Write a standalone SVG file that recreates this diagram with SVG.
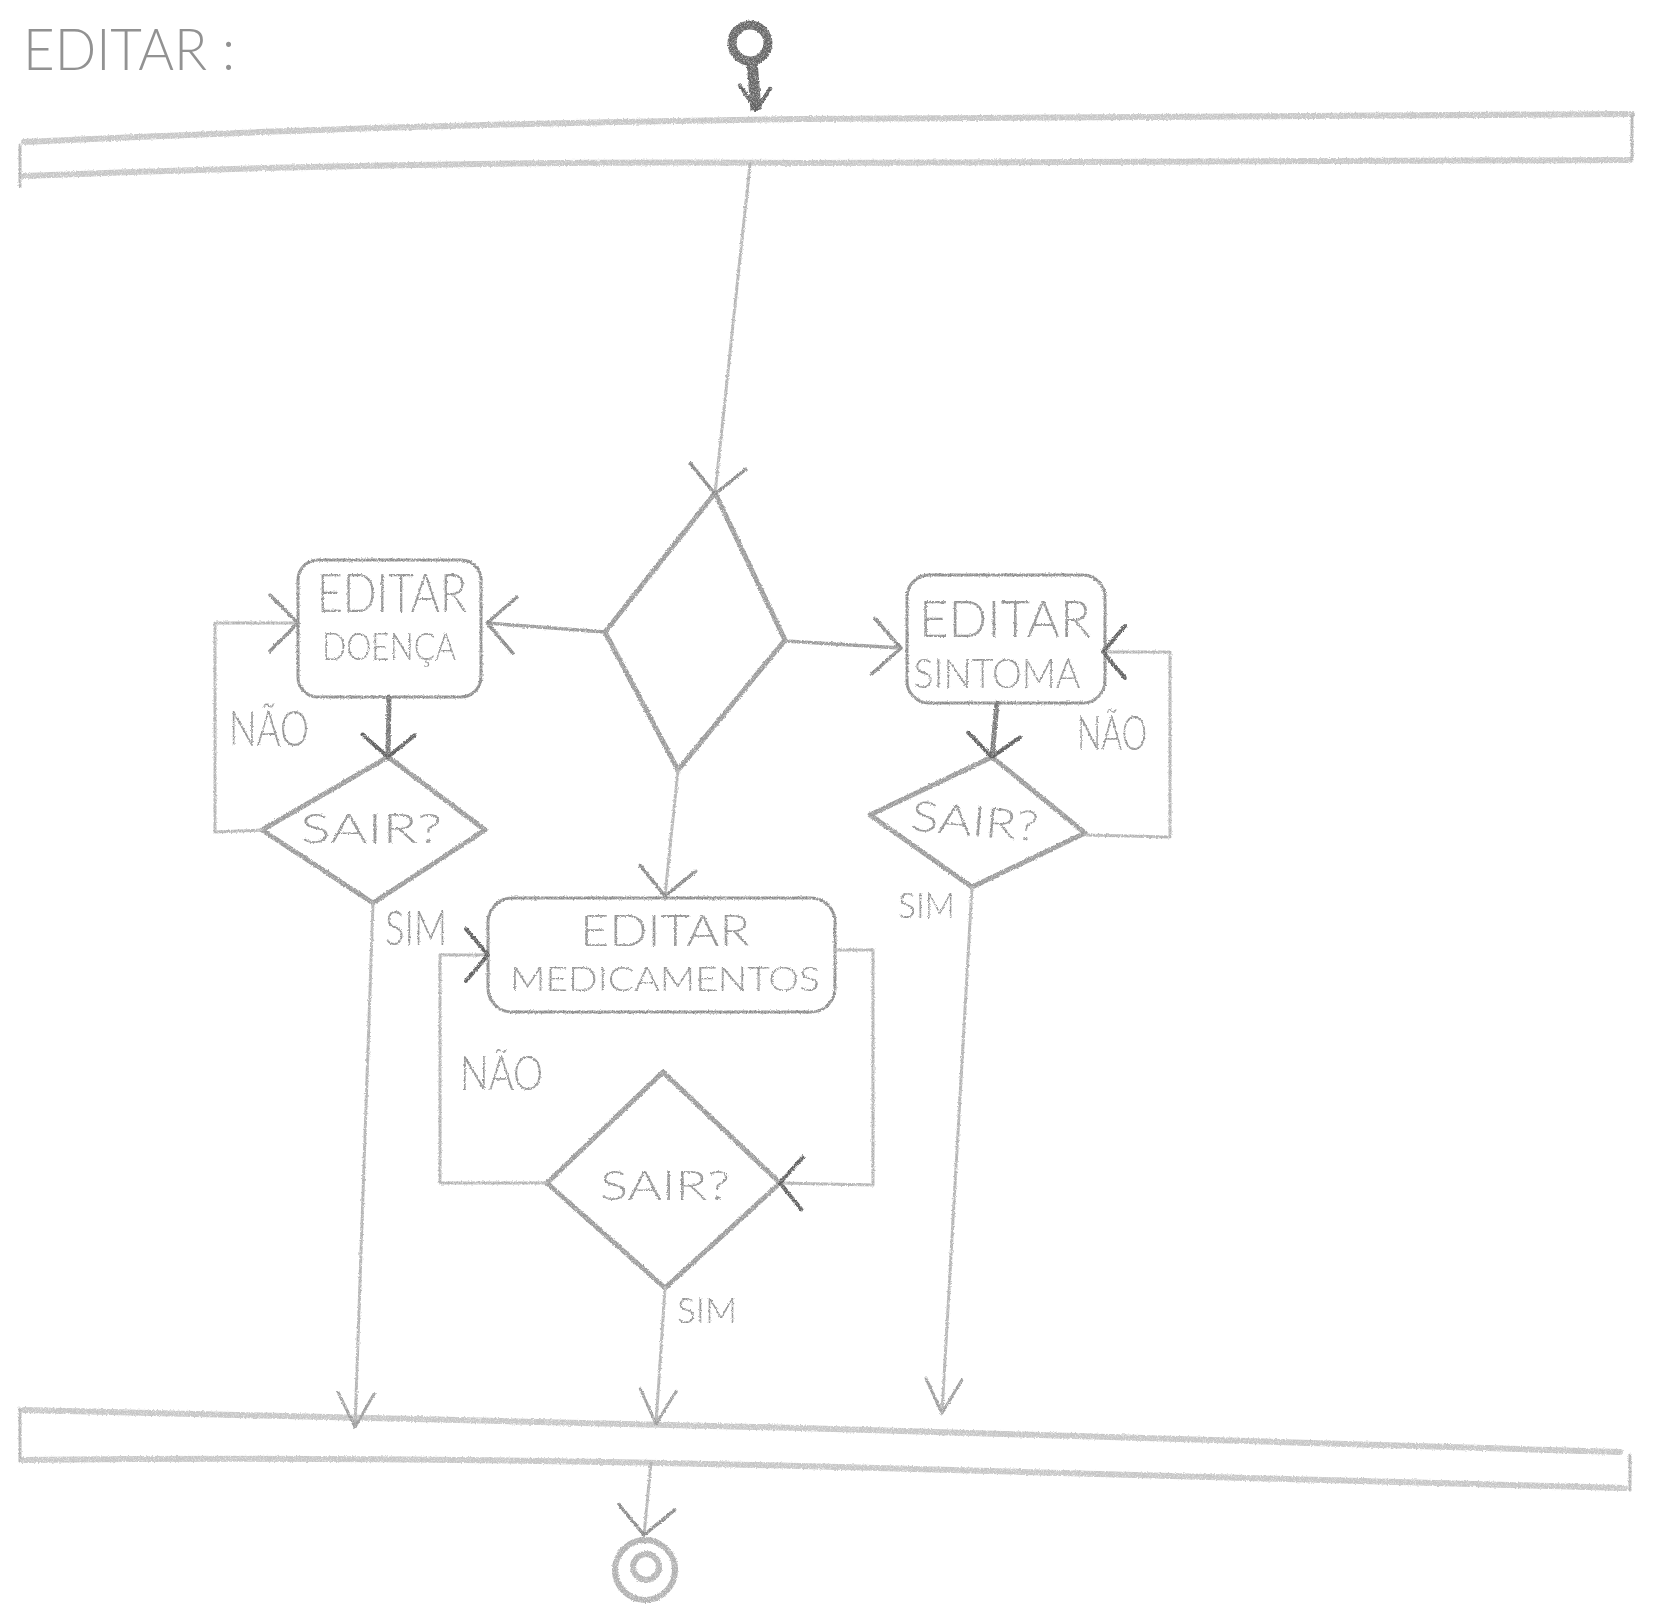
<svg xmlns="http://www.w3.org/2000/svg" width="1660" height="1624" viewBox="0 0 1660 1624">
  <defs>
    <style>
      .sheet { fill: #ffffff; }
      .pencil { fill: none; stroke-linecap: round; stroke-linejoin: round; }
      .bar { stroke: #c6c6c6; stroke-width: 6; }
      .bar-edge { stroke: #b4b4b4; stroke-width: 3; }
      .box { stroke: #8e8e8e; stroke-width: 3; }
      .diamond { stroke: #9a9a9a; stroke-width: 5; }
      .flow-light { stroke: #b4b4b4; stroke-width: 3; }
      .flow-mid { stroke: #9a9a9a; stroke-width: 3.5; }
      .flow-dark { stroke: #777777; stroke-width: 5; }
      .hand { font-family: "Lato", "Liberation Sans", "DejaVu Sans", sans-serif; font-weight: 300; fill: #929292; text-anchor: middle; }
      .hand-start { font-family: "Lato", "Liberation Sans", "DejaVu Sans", sans-serif; font-weight: 300; fill: #929292; }
      .head-dark { fill: none; stroke: #5e5e5e; stroke-width: 4; stroke-linecap: round; stroke-linejoin: round; }
      .head-mid { fill: none; stroke: #8a8a8a; stroke-width: 3.5; stroke-linecap: round; stroke-linejoin: round; }
      .head-light { fill: none; stroke: #9d9d9d; stroke-width: 3; stroke-linecap: round; stroke-linejoin: round; }
    </style>
    <!-- graphite texture: slightly wobbly, grainy strokes -->
    <filter id="graphite" filterUnits="userSpaceOnUse" x="0" y="0" width="1660" height="1624">
      <feTurbulence type="fractalNoise" baseFrequency="0.6" numOctaves="2" seed="7" result="noise"/>
      <feDisplacementMap in="SourceGraphic" in2="noise" scale="3" xChannelSelector="R" yChannelSelector="G" result="rough"/>
      <feTurbulence type="fractalNoise" baseFrequency="1.4" numOctaves="1" seed="3" result="grain"/>
      <feColorMatrix in="grain" type="matrix" values="0 0 0 0 0  0 0 0 0 0  0 0 0 0 0  -1.6 0 0 0 1.7" result="grainA"/>
      <feComposite in="rough" in2="grainA" operator="in"/>
    </filter>
    <!-- open V arrowheads -->
    <marker id="arrow-wide" markerUnits="userSpaceOnUse" markerWidth="80" markerHeight="80" refX="0" refY="0" orient="auto" style="overflow:visible">
      <path class="head-mid" d="M-28,-28 L0,0 L-28,28"/>
    </marker>
    <marker id="arrow-dark" markerUnits="userSpaceOnUse" markerWidth="80" markerHeight="80" refX="0" refY="0" orient="auto" style="overflow:visible">
      <path class="head-dark" d="M-22,-26 L0,0 L-22,26"/>
    </marker>
    <marker id="arrow-narrow" markerUnits="userSpaceOnUse" markerWidth="80" markerHeight="80" refX="0" refY="0" orient="auto" style="overflow:visible">
      <path class="head-light" d="M-34,-18 L0,0 L-34,18"/>
    </marker>
    <marker id="arrow-start" markerUnits="userSpaceOnUse" markerWidth="60" markerHeight="60" refX="0" refY="0" orient="auto" style="overflow:visible">
      <path class="head-dark" d="M-20,-16 L0,0 L-26,14"/>
    </marker>
  </defs>

  <rect class="sheet" x="0" y="0" width="1660" height="1624"/>

  <g id="title">
    <text class="hand-start" x="23" y="70" font-size="58" textLength="212" lengthAdjust="spacingAndGlyphs">EDITAR :</text>
  </g>

  <g filter="url(#graphite)">
    <!-- initial node -->
    <g id="start">
      <circle cx="750" cy="43" r="18" fill="none" stroke="#666666" stroke-width="9"/>
    </g>

    <!-- fork bar -->
    <g id="fork" class="pencil">
      <path class="bar" d="M24,142 Q400,124 800,119 L1632,114"/>
      <path class="bar" d="M24,176 Q420,160 800,163 L1630,160"/>
      <path class="bar-edge" d="M20,145 L20,186"/>
      <path class="bar-edge" d="M1632,114 L1632,160"/>
    </g>

    <!-- first decision -->
    <g id="decision" class="pencil">
      <path class="diamond" d="M715,493 L785,640 L678,770 L605,632 Z"/>
    </g>

    <g id="editar-doenca" class="pencil">
      <rect class="box" x="298" y="560" width="183" height="137" rx="20"/>
      <text class="hand" x="392" y="612" font-size="54" textLength="150" lengthAdjust="spacingAndGlyphs">EDITAR</text>
      <text class="hand" x="389" y="660" font-size="37" textLength="134" lengthAdjust="spacingAndGlyphs">DOENÇA</text>
    </g>

    <g id="editar-sintoma" class="pencil">
      <rect class="box" x="907" y="575" width="198" height="128" rx="22"/>
      <text class="hand" x="1005" y="637" font-size="52" textLength="172" lengthAdjust="spacingAndGlyphs">EDITAR</text>
      <text class="hand" x="997" y="688" font-size="42" textLength="167" lengthAdjust="spacingAndGlyphs">SINTOMA</text>
    </g>

    <g id="editar-medicamentos" class="pencil">
      <rect class="box" x="488" y="898" width="347" height="114" rx="24"/>
      <text class="hand" x="665" y="946" font-size="44" textLength="170" lengthAdjust="spacingAndGlyphs">EDITAR</text>
      <text class="hand" x="665" y="991" font-size="34" textLength="310" lengthAdjust="spacingAndGlyphs">MEDICAMENTOS</text>
    </g>

    <g id="sair-doenca" class="pencil">
      <path class="diamond" d="M388,757 L485,830 L373,903 L262,830 Z"/>
      <text class="hand" x="371" y="843" font-size="42" textLength="142" lengthAdjust="spacingAndGlyphs">SAIR?</text>
    </g>

    <g id="sair-sintoma" class="pencil">
      <path class="diamond" d="M992,757 L1085,833 L972,887 L870,815 Z"/>
      <text class="hand" x="975" y="836" font-size="42" textLength="128" lengthAdjust="spacingAndGlyphs" transform="rotate(5 975 822)">SAIR?</text>
    </g>

    <g id="sair-medicamentos" class="pencil">
      <path class="diamond" d="M663,1072 L780,1183 L665,1288 L547,1183 Z"/>
      <text class="hand" x="665" y="1200" font-size="42" textLength="130" lengthAdjust="spacingAndGlyphs">SAIR?</text>
    </g>

    <!-- join bar -->
    <g id="join" class="pencil">
      <path class="bar" d="M24,1410 Q400,1418 800,1428 L1620,1452"/>
      <path class="bar" d="M22,1460 Q400,1456 800,1466 L1625,1488"/>
      <path class="bar-edge" d="M20,1408 L20,1461"/>
      <path class="bar-edge" d="M1630,1455 L1630,1490"/>
    </g>

    <!-- final node -->
    <g id="end">
      <circle cx="645" cy="1570" r="30" fill="none" stroke="#b0b0b0" stroke-width="6"/>
      <circle cx="646" cy="1567" r="13" fill="none" stroke="#b4b4b4" stroke-width="6"/>
    </g>

    <!-- transitions -->
    <g id="connectors" class="pencil">
      <path d="M752,62 L756,110" stroke="#666666" stroke-width="11" stroke-linecap="butt" marker-end="url(#arrow-start)"/>
      <path class="flow-light" d="M750,164 L715,494" marker-end="url(#arrow-wide)"/>
      <path class="flow-mid" d="M605,632 L487,623" marker-end="url(#arrow-wide)"/>
      <path class="flow-mid" d="M785,641 L901,648" marker-end="url(#arrow-wide)"/>
      <path class="flow-light" d="M678,770 L665,896" marker-end="url(#arrow-wide)"/>

      <path class="flow-dark" d="M389,697 L388,757" marker-end="url(#arrow-dark)"/>
      <path class="flow-light" d="M262,830 L215,832 L215,623 L298,623" marker-end="url(#arrow-wide)"/>
      <path class="flow-light" d="M373,903 L355,1427" marker-end="url(#arrow-narrow)"/>

      <path class="flow-dark" d="M997,703 L992,757" marker-end="url(#arrow-dark)"/>
      <path class="flow-light" d="M1085,835 L1170,837 L1170,652 L1103,652" marker-end="url(#arrow-dark)"/>
      <path class="flow-light" d="M972,887 L942,1413" marker-end="url(#arrow-narrow)"/>

      <path class="flow-light" d="M835,950 L873,950 L873,1185 L780,1183" marker-end="url(#arrow-dark)"/>
      <path class="flow-light" d="M547,1183 L440,1183 L440,955 L488,955" marker-end="url(#arrow-dark)"/>
      <path class="flow-light" d="M665,1288 L656,1424" marker-end="url(#arrow-narrow)"/>

      <path class="flow-light" d="M651,1462 L644,1535" marker-end="url(#arrow-wide)"/>
    </g>

    <!-- guard labels -->
    <g id="labels">
      <text class="hand-start" x="229" y="746" font-size="50" textLength="80" lengthAdjust="spacingAndGlyphs">NÃO</text>
      <text class="hand-start" x="1077" y="750" font-size="48" textLength="70" lengthAdjust="spacingAndGlyphs">NÃO</text>
      <text class="hand-start" x="460" y="1090" font-size="48" textLength="83" lengthAdjust="spacingAndGlyphs">NÃO</text>
      <text class="hand-start" x="385" y="945" font-size="48" textLength="62" lengthAdjust="spacingAndGlyphs">SIM</text>
      <text class="hand-start" x="898" y="918" font-size="36" textLength="57" lengthAdjust="spacingAndGlyphs">SIM</text>
      <text class="hand-start" x="677" y="1323" font-size="36" textLength="60" lengthAdjust="spacingAndGlyphs">SIM</text>
    </g>
  </g>
</svg>
